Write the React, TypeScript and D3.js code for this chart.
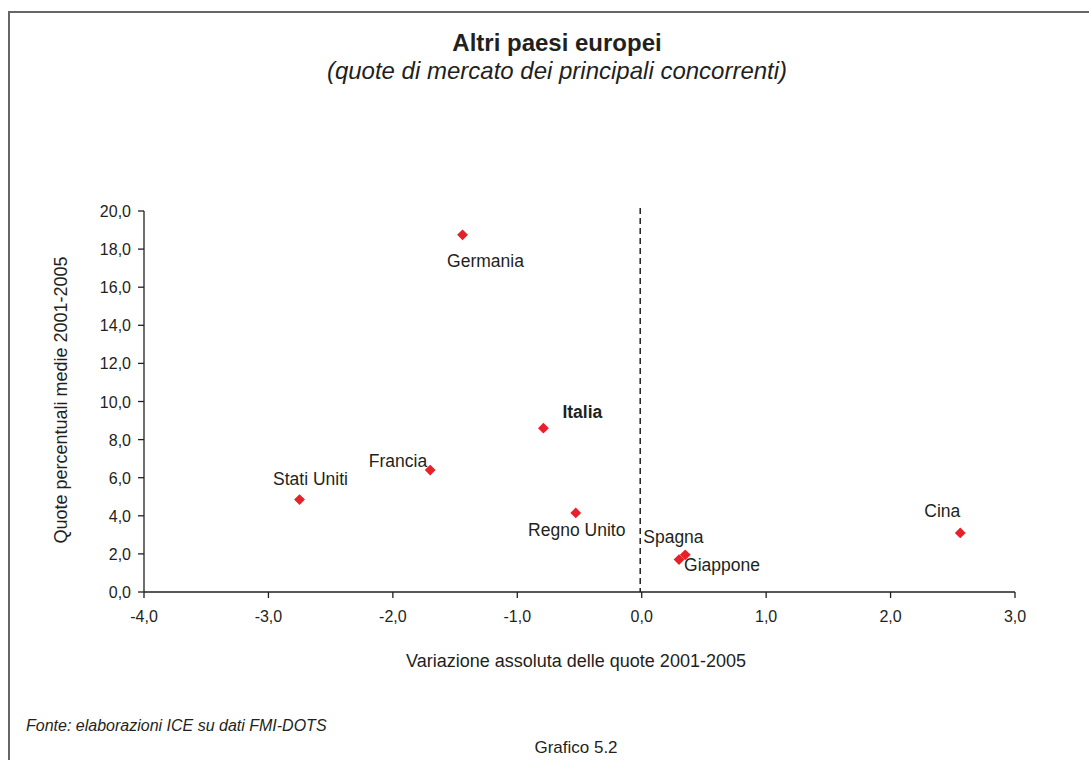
import React from "react";
import * as d3 from "d3";

const countries = ["Germania", "Italia", "Francia", "Stati Uniti", "Regno Unito", "Spagna", "Giappone", "Cina"];
const variazione = [-1.44, -0.79, -1.70, -2.75, -0.53, 0.35, 0.30, 2.56];
const quote = [18.75, 8.6, 6.4, 4.85, 4.15, 1.95, 1.7, 3.1];
const xTicks = [-4, -3, -2, -1, 0, 1, 2, 3];
const yTicks = [0, 2, 4, 6, 8, 10, 12, 14, 16, 18, 20];

// label placement relative to point (px: dx, baseline dy, anchor)
const labelOffsets: [number, number, string][] = [
  [23, 32, "middle"],
  [19, -10, "start"],
  [-3, -3, "end"],
  [11, -15, "middle"],
  [1, 23, "middle"],
  [-42, -12, "start"],
  [5, 11, "start"],
  [-18, -16, "middle"],
];

const W = 1089, H = 760;
const x = d3.scaleLinear().domain([-4, 3]).range([144, 1015]);
const y = d3.scaleLinear().domain([0, 20]).range([592, 211]);
const fmt = (v: number) => d3.format(".1f")(v).replace("−", "-").replace(".", ",");
const FONT = "'Liberation Sans', Arial, Helvetica, sans-serif";
const INK = "#231f20";

export default function App() {
  const diamond = d3.symbol().type(d3.symbolDiamond2).size(75)();
  return (
    <svg width={W} height={H} style={{ position: "absolute", left: 0, top: 0, background: "#fff" }} fontFamily={FONT}>
      <rect x={9} y={12} width={W + 10} height={H + 10} fill="none" stroke="#666" strokeWidth={2} />
      <text x={557} y={51} textAnchor="middle" fontSize={24} fontWeight="bold" fill={INK}>Altri paesi europei</text>
      <text x={557} y={79} textAnchor="middle" fontSize={24} fontStyle="italic" fill={INK}>(quote di mercato dei principali concorrenti)</text>

      {/* y axis */}
      <line x1={x(-4)} x2={x(-4)} y1={y(20)} y2={y(0)} stroke={INK} strokeWidth={1.3} />
      {yTicks.map((t) => (
        <g key={"y" + t}>
          <line x1={x(-4) - 6} x2={x(-4)} y1={y(t)} y2={y(t)} stroke={INK} strokeWidth={1.3} />
          <text x={131} y={y(t) + 6} textAnchor="end" fontSize={16} fill={INK}>{fmt(t)}</text>
        </g>
      ))}
      {/* x axis */}
      <line x1={x(-4)} x2={x(3)} y1={y(0)} y2={y(0)} stroke={INK} strokeWidth={1.3} />
      {xTicks.map((t) => (
        <g key={"x" + t}>
          <line x1={x(t)} x2={x(t)} y1={y(0)} y2={y(0) + 6} stroke={INK} strokeWidth={1.3} />
          <text x={x(t)} y={622} textAnchor="middle" fontSize={16} fill={INK}>{fmt(t)}</text>
        </g>
      ))}
      {/* dashed zero line */}
      <line x1={x(0) - 1.5} x2={x(0) - 1.5} y1={y(20) - 3} y2={y(0)} stroke={INK} strokeWidth={1.5} strokeDasharray="6,4" />

      <text x={576} y={667} textAnchor="middle" fontSize={18} fill={INK}>Variazione assoluta delle quote 2001-2005</text>
      <text transform={`translate(67,400) rotate(-90)`} textAnchor="middle" fontSize={18} fill={INK}>Quote percentuali medie 2001-2005</text>

      {countries.map((c, i) => {
        const px = x(variazione[i]);
        const py = y(quote[i]);
        const [dx, dy, anchor] = labelOffsets[i];
        return (
          <g key={c}>
            <path d={diamond} transform={`translate(${px},${py})`} fill="#e8202a" />
            <text x={px + dx} y={py + dy} textAnchor={anchor as any} fontSize={17.5} fontWeight={c === "Italia" ? "bold" : "normal"} fill={INK}>{c}</text>
          </g>
        );
      })}

      <text x={26} y={731} fontSize={16} fontStyle="italic" fill={INK}>Fonte: elaborazioni ICE su dati FMI-DOTS</text>
      <text x={576} y={753} textAnchor="middle" fontSize={17} fill={INK}>Grafico 5.2</text>
    </svg>
  );
}
